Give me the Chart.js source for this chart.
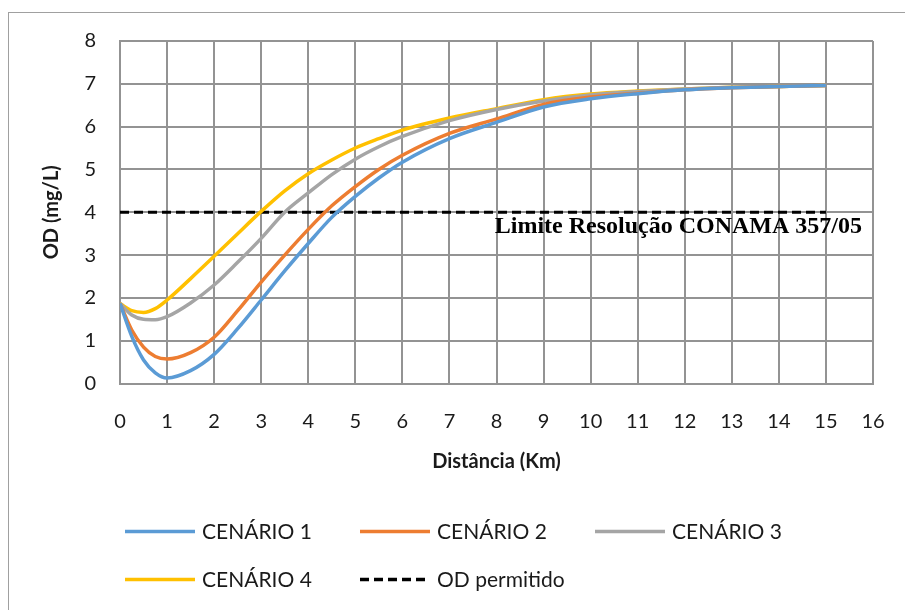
<!DOCTYPE html>
<html>
<head>
<meta charset="utf-8">
<script src="https://cdn.jsdelivr.net/npm/chart.js@4.4.1/dist/chart.umd.min.js"></script>
<style>
  html,body{margin:0;padding:0;background:#fff;overflow:hidden}
  #wrap{position:relative;width:905px;height:610px;overflow:hidden}
  #frame{position:absolute;left:8px;top:12px;width:1000px;height:1000px;border:1px solid #a0a0a0;box-sizing:border-box}
  canvas{position:absolute;left:0;top:0}
</style>
</head>
<body>
<div id="wrap"><div id="frame"></div><canvas id="c" width="905" height="610"></canvas></div>
<script>
// valores
const distancia = [0,0.25,0.5,0.75,1,1.5,2,2.5,3,3.5,4,4.5,5,5.5,6,7,8,9,10,11,12,13,14,15];
const cenario1  = [1.87,1.1,0.55,0.25,0.13,0.3,0.68,1.28,1.95,2.63,3.27,3.88,4.37,4.8,5.17,5.72,6.1,6.46,6.65,6.77,6.86,6.91,6.94,6.96];
const cenario2  = [1.87,1.25,0.85,0.63,0.57,0.72,1.08,1.7,2.37,3.0,3.6,4.15,4.6,5.0,5.33,5.84,6.18,6.52,6.69,6.78,6.86,6.91,6.94,6.96];
const cenario3  = [1.87,1.6,1.5,1.49,1.56,1.88,2.3,2.83,3.39,4.0,4.45,4.88,5.24,5.53,5.77,6.14,6.4,6.6,6.74,6.82,6.88,6.92,6.94,6.96];
const cenario4  = [1.87,1.7,1.66,1.75,1.95,2.45,2.97,3.5,4.02,4.5,4.9,5.22,5.5,5.72,5.92,6.2,6.42,6.63,6.76,6.83,6.88,6.92,6.94,6.96];
const limiteX   = [0,15];
const limiteY   = [4,4];
const nomes     = ['CENÁRIO 1','CENÁRIO 2','CENÁRIO 3','CENÁRIO 4','OD permitido'];
const cores     = ['#5b9bd5','#ed7d31','#a5a5a5','#ffc000','#000000'];
const textoLimite = 'Limite Resolução CONAMA 357/05';

function pts(xs, ys){ return xs.map((x,i)=>({x, y:ys[i]})); }

const gridLegend = {
  id:'gridLegend',
  afterDraw(chart){
    const ctx = chart.ctx, a = chart.chartArea;
    const x0 = a.left + 5, colW = 235;
    const rows = [a.bottom + 148, a.bottom + 196];
    chart.data.datasets.forEach((ds,i)=>{
      const x = x0 + (i%3)*colW, y = rows[Math.floor(i/3)];
      ctx.save();
      ctx.strokeStyle = ds.borderColor;
      ctx.lineWidth = 3.5;
      ctx.setLineDash(ds.borderDash || []);
      ctx.beginPath(); ctx.moveTo(x,y); ctx.lineTo(x+70,y); ctx.stroke();
      ctx.setLineDash([]);
      ctx.fillStyle = '#1a1a1a';
      ctx.font = '21px Lato';
      ctx.textBaseline = 'middle';
      ctx.fillText(ds.label, x+77, y+1);
      ctx.restore();
    });
  }
};

const limiteLabel = {
  id:'limiteLabel',
  afterDatasetsDraw(chart){
    const ctx = chart.ctx, a = chart.chartArea;
    const y = chart.scales.y.getPixelForValue(limiteY[0]);
    ctx.save();
    ctx.fillStyle = '#000';
    ctx.font = 'bold 24px "Liberation Serif"';
    ctx.textAlign = 'right';
    ctx.textBaseline = 'alphabetic';
    ctx.fillText(textoLimite, a.right - 11, y + 21, 372);
    ctx.restore();
  }
};

const series = [cenario1, cenario2, cenario3, cenario4];
const datasets = series.map((s,i)=>({
  label: nomes[i], data: pts(distancia, s),
  borderColor: cores[i], backgroundColor: cores[i],
  borderWidth: 3.5, pointRadius: 0, cubicInterpolationMode:'monotone', fill: false
}));
datasets.push({
  label: nomes[4], data: pts(limiteX, limiteY),
  borderColor: cores[4], backgroundColor: cores[4],
  borderWidth: 3, borderDash:[9,5], pointRadius: 0, tension: 0, fill: false
});

const gridColor = '#939393';

new Chart(document.getElementById('c'), {
  type:'line',
  data:{ datasets },
  plugins:[gridLegend, limiteLabel],
  options:{
    responsive:false,
    animation:false,
    layout:{padding:{left:0, top:41, right:32, bottom:136}},
    plugins:{ legend:{display:false}, tooltip:{enabled:false} },
    scales:{
      x:{
        type:'linear', min:0, max:16,
        ticks:{stepSize:1, color:'#1a1a1a', font:{family:'Lato', size:20}, padding:26, maxRotation:0},
        grid:{color:gridColor, lineWidth:2, drawTicks:false},
        border:{color:gridColor, width:2},
        title:{display:true, text:'Distância (Km)', color:'#1a1a1a', font:{family:'Lato', size:20, weight:'bold'}, padding:{top:0,bottom:0}},
        afterFit(s){ s.height = 90.5; s.paddingRight = 0; s.paddingLeft = 0; }
      },
      y:{
        min:0, max:8,
        ticks:{stepSize:1, color:'#1a1a1a', font:{family:'Lato', size:20}, padding:24},
        grid:{color:gridColor, lineWidth:2, drawTicks:false},
        border:{color:gridColor, width:2},
        title:{display:true, text:'OD (mg/L)', color:'#1a1a1a', font:{family:'Lato', size:20, weight:'bold'}, padding:{top:40,bottom:0}},
        afterFit(s){ s.width = 120; }
      }
    }
  }
});
</script>
</body>
</html>
